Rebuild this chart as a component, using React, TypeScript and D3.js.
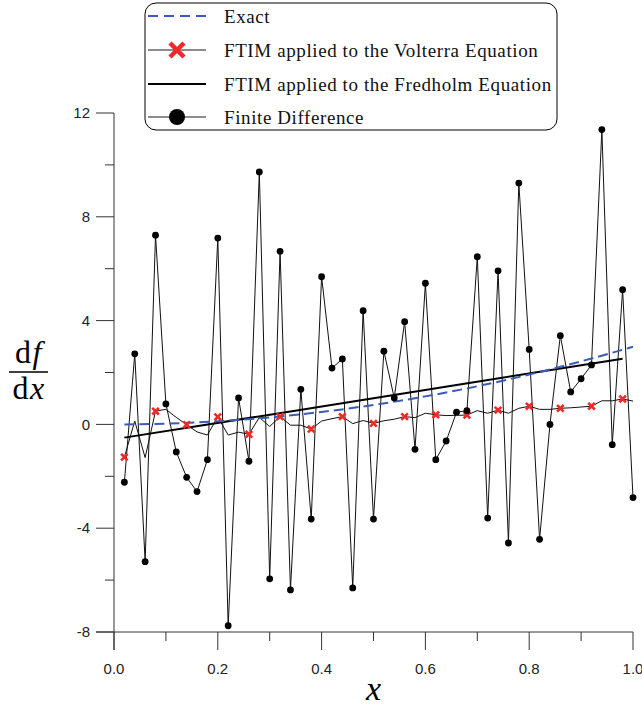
import React from "react";
import * as d3 from "d3";

const width = 642;
const height = 708;
const margin = { top: 113, right: 9, bottom: 76, left: 114 };

// sample points shared by the finite difference and Volterra series
const xGrid = [
  0.02, 0.04, 0.06, 0.08, 0.1, 0.12, 0.14, 0.16, 0.18, 0.2,
  0.22, 0.24, 0.26, 0.28, 0.3, 0.32, 0.34, 0.36, 0.38, 0.4,
  0.42, 0.44, 0.46, 0.48, 0.5, 0.52, 0.54, 0.56, 0.58, 0.6,
  0.62, 0.64, 0.66, 0.68, 0.7, 0.72, 0.74, 0.76, 0.78, 0.8,
  0.82, 0.84, 0.86, 0.88, 0.9, 0.92, 0.94, 0.96, 0.98, 1.0,
];

const finiteDiff = [
  -2.23, 2.72, -5.29, 7.29, 0.79, -1.06, -2.04, -2.59, -1.36, 7.18,
  -7.76, 1.02, -1.42, 9.73, -5.95, 6.67, -6.38, 1.35, -3.65, 5.69,
  2.17, 2.52, -6.3, 4.38, -3.65, 2.82, 1.02, 3.96, -0.96, 5.44,
  -1.36, -0.64, 0.47, 0.53, 6.46, -3.61, 5.92, -4.57, 9.3, 2.89,
  -4.43, 0.0, 3.42, 1.25, 1.76, 2.29, 11.36, -0.78, 5.19, -2.82,
];

const volterra = [
  -1.26, 0.13, -1.28, 0.51, 0.58, 0.27, -0.01, -0.29, -0.41, 0.29,
  -0.41, -0.3, -0.38, 0.27, -0.08, 0.3, -0.03, -0.03, -0.18, 0.13,
  0.22, 0.3, 0.03, 0.15, 0.04, 0.14, 0.2, 0.3, 0.26, 0.43,
  0.37, 0.34, 0.35, 0.36, 0.53, 0.43, 0.55, 0.43, 0.62, 0.7,
  0.58, 0.58, 0.62, 0.64, 0.67, 0.7, 0.91, 0.91, 0.98, 0.9,
];

const fredholmX = [0.02, 0.34, 0.66, 0.98];
const fredholm = [-0.51, 0.5, 1.52, 2.53];

const exactX = [0.02, 0.1, 0.2, 0.3, 0.4, 0.5, 0.6, 0.7, 0.8, 0.9, 1.0];
const exact = [0.0, 0.03, 0.12, 0.27, 0.48, 0.75, 1.08, 1.47, 1.92, 2.43, 2.99];

const xMajor = [0, 0.2, 0.4, 0.6, 0.8, 1.0];
const xMinor = [0.1, 0.3, 0.5, 0.7, 0.9];
const yMajor = [-8, -4, 0, 4, 8, 12];
const yMinor = [-6, -2, 2, 6, 10];

const legendLabels = [
  "Exact",
  "FTIM applied to the Volterra Equation",
  "FTIM applied to the Fredholm Equation",
  "Finite Difference",
];

const red = "#f02828";
const blue = "#3a5cb8";
const axisColor = "#333";
const serif = "'Liberation Serif', 'Times New Roman', serif";
const sans = "'Liberation Sans', Arial, sans-serif";

const x = d3.scaleLinear().domain([0, 1]).range([margin.left, width - margin.right]);
const y = d3.scaleLinear().domain([-8, 12]).range([height - margin.bottom, margin.top]);

const Cross = ({ cx, cy, s, w }: { cx: number; cy: number; s: number; w: number }) => (
  <path
    d={`M${cx - s},${cy - s}L${cx + s},${cy + s}M${cx - s},${cy + s}L${cx + s},${cy - s}`}
    stroke={red}
    strokeWidth={w}
    fill="none"
  />
);

const App = () => {
  const fdPts: [number, number][] = xGrid.map((v, i) => [v, finiteDiff[i]]);
  const voPts: [number, number][] = xGrid.map((v, i) => [v, volterra[i]]);
  const frPts: [number, number][] = fredholmX.map((v, i) => [v, fredholm[i]]);
  const exPts: [number, number][] = exactX.map((v, i) => [v, exact[i]]);

  const ln = d3
    .line<[number, number]>()
    .x((d) => x(d[0]))
    .y((d) => y(d[1]));
  const smooth = d3
    .line<[number, number]>()
    .x((d) => x(d[0]))
    .y((d) => y(d[1]))
    .curve(d3.curveMonotoneX);

  const x0 = x(0);
  const yBase = y(-8);
  const major = 18;
  const minor = 9;

  // legend layout
  const lg = { x: 145, y: 3, w: 412, h: 127 };
  const rowY = [16, 50, 84, 117];
  const sampleX1 = 148;
  const sampleX2 = 206;
  const textX = 224;

  return (
    <svg
      width={width}
      height={height}
      style={{ position: "absolute", left: 0, top: 0, background: "#fff" }}
    >
      {/* axes */}
      <g stroke={axisColor} strokeWidth={1} fill="none">
        <line x1={x0} x2={x0} y1={y(12)} y2={yBase + major} />
        <line x1={x0 - major} x2={x(1)} y1={yBase} y2={yBase} />
        {yMajor.map((t) => (
          <line key={"ym" + t} x1={x0 - major} x2={x0} y1={y(t)} y2={y(t)} />
        ))}
        {yMinor.map((t) => (
          <line key={"yn" + t} x1={x0 - minor} x2={x0} y1={y(t)} y2={y(t)} />
        ))}
        {xMajor.map((t) => (
          <line key={"xm" + t} x1={x(t)} x2={x(t)} y1={yBase} y2={yBase + major} />
        ))}
        {xMinor.map((t) => (
          <line key={"xn" + t} x1={x(t)} x2={x(t)} y1={yBase} y2={yBase + minor} />
        ))}
      </g>
      <g fontFamily={sans} fontSize={15} fill="#222">
        {yMajor.map((t) => (
          <text key={"yl" + t} x={x0 - 24} y={y(t)} dy="0.35em" textAnchor="end">
            {t}
          </text>
        ))}
        {xMajor.map((t) => (
          <text key={"xl" + t} x={x(t)} y={yBase + 42} textAnchor="middle">
            {t.toFixed(1)}
          </text>
        ))}
      </g>

      {/* axis titles */}
      <text x={x(0.5)} y={700} textAnchor="middle" fontFamily={serif} fontStyle="italic" fontSize={34}>
        x
      </text>
      <g fontFamily={serif} fontSize={32} textAnchor="middle" letterSpacing={1.5}>
        <text x={29} y={363}>
          d<tspan fontStyle="italic">f</tspan>
        </text>
        <line x1={9} x2={48} y1={372} y2={372} stroke="#000" strokeWidth={1.5} />
        <text x={29} y={399}>
          d<tspan fontStyle="italic">x</tspan>
        </text>
      </g>

      {/* finite difference */}
      <path d={ln(fdPts) ?? ""} fill="none" stroke="#111" strokeWidth={1} />
      {/* Volterra */}
      <path d={ln(voPts) ?? ""} fill="none" stroke="#111" strokeWidth={1} />
      {/* Fredholm */}
      <path d={ln(frPts) ?? ""} fill="none" stroke="#000" strokeWidth={2} />
      {/* Exact */}
      <path d={smooth(exPts) ?? ""} fill="none" stroke={blue} strokeWidth={2} strokeDasharray="10,5" />
      {voPts
        .filter((_, i) => i % 3 === 0)
        .map((d, i) => (
          <Cross key={"c" + i} cx={x(d[0])} cy={y(d[1])} s={3.3} w={2.6} />
        ))}
      {fdPts.map((d, i) => (
        <circle key={"p" + i} cx={x(d[0])} cy={y(d[1])} r={3.4} fill="#000" />
      ))}

      {/* legend */}
      <rect x={lg.x} y={lg.y} width={lg.w} height={lg.h} rx={11} fill="#fff" stroke="#000" strokeWidth={1} />
      <line x1={sampleX1} x2={sampleX2} y1={rowY[0]} y2={rowY[0]} stroke={blue} strokeWidth={2} strokeDasharray="10,6" />
      <line x1={sampleX1} x2={sampleX2} y1={rowY[1]} y2={rowY[1]} stroke="#666" strokeWidth={1.5} />
      <Cross cx={(sampleX1 + sampleX2) / 2} cy={rowY[1]} s={7} w={4.5} />
      <line x1={sampleX1} x2={sampleX2} y1={rowY[2]} y2={rowY[2]} stroke="#000" strokeWidth={2} />
      <line x1={sampleX1} x2={sampleX2} y1={rowY[3]} y2={rowY[3]} stroke="#666" strokeWidth={1.5} />
      <circle cx={(sampleX1 + sampleX2) / 2} cy={rowY[3]} r={8} fill="#000" />
      <g fontFamily={serif} fontSize={19} letterSpacing={0.6} fill="#111">
        {legendLabels.map((t, i) => (
          <text key={t} x={textX} y={rowY[i]} dy="0.35em">
            {t}
          </text>
        ))}
      </g>
    </svg>
  );
};

export default App;
